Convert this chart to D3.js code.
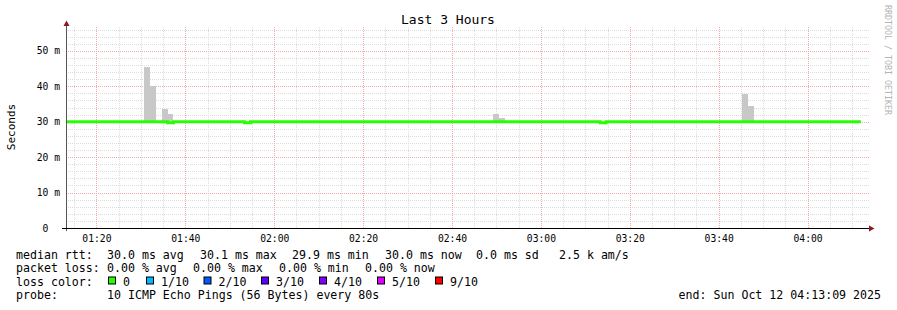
<!DOCTYPE html>
<html>
<head>
<meta charset="utf-8">
<script src="https://cdn.jsdelivr.net/npm/d3@7"></script>
<style>
html, body { margin: 0; padding: 0; background: #fff; }
svg { display: block; }
text { font-family: "DejaVu Sans Mono", monospace; }
</style>
</head>
<body>
<svg></svg>
<script>
const WIDTH = 897;
const HEIGHT = 310;

// time window and rrd step
const DAY = '2025-10-12';
const START = '01:13:09';
const END = '04:13:09';
const STEP_SECONDS = 80;

// smoke (gray bars): step start and highest ping, ms
const smokeStarts = ['01:30:40', '01:32:00', '01:34:40', '01:36:00', '02:49:20', '02:50:40', '03:45:20', '03:46:40'];
const smokeTops = [45.3, 40.2, 33.7, 32.2, 32.2, 31.1, 37.9, 34.5];

// median rtt, as change points of a step line, ms
const medianTimes = ['01:13:09', '01:36:00', '01:37:20', '01:53:20', '01:54:40', '03:13:20', '03:14:40', '04:12:00'];
const medianValues = [30.0, 29.7, 30.0, 29.7, 30.0, 29.7, 30.0, 30.0];

// axis ticks
const xMajorTicks = ['01:20', '01:40', '02:00', '02:20', '02:40', '03:00', '03:20', '03:40', '04:00'];
const yMajorTicks = [0, 10, 20, 30, 40, 50];
const yMinorTicks = [2, 4, 6, 8, 12, 14, 16, 18, 22, 24, 26, 28, 32, 34, 36, 38, 42, 44, 46, 48, 52, 54, 56];

// legend
const rttStats = ['30.0 ms avg', '30.1 ms max', '29.9 ms min', '30.0 ms now', '0.0 ms sd', '2.5 k am/s'];
const lossStats = ['0.00 % avg', '0.00 % max', '0.00 % min', '0.00 % now'];
const lossLabels = ['0', '1/10', '2/10', '3/10', '4/10', '5/10', '9/10'];
const lossColors = ['#26ff00', '#00b8ff', '#0059ff', '#5e00ff', '#7e00ff', '#dd00ff', '#ff0000'];
const probeText = '10 ICMP Echo Pings (56 Bytes) every 80s';
const endText = 'end: Sun Oct 12 04:13:09 2025';

// layout (rrdtool places each legend item on its own)
const PLOT = { left: 66, right: 866, top: 26, bottom: 228 };
const rttX = [107, 200, 292, 385, 476, 559];
const lossX = [107, 193, 279, 365];
const lossBoxX = [108, 146, 203.5, 261, 319, 377, 435];
const rowY = [258.5, 272, 285.5, 299];

const parseTime = d3.timeParse('%Y-%m-%d %H:%M:%S');
const toDate = (s) => parseTime(`${DAY} ${s}`);
const hm = (s) => toDate(s + ':00');

let svg = d3.select('svg')
    .attr('width', WIDTH)
    .attr('height', HEIGHT);

let x = d3.scaleTime()
    .domain([toDate(START), toDate(END)])
    .range([PLOT.left, PLOT.right]);

let y = d3.scaleLinear()
    .domain([0, 57])
    .range([PLOT.bottom, PLOT.top]);

const plotH = PLOT.bottom - PLOT.top;
const gridRight = PLOT.right + 3;

// minor vertical grid, every 5 min
let majorTimes = xMajorTicks.map(hm);
let minorTimes = x.ticks(d3.timeMinute.every(5))
    .filter((t) => !majorTimes.some((m) => +m === +t));

function styleGrid(g, color) {
    g.select('.domain').remove();
    g.selectAll('text').remove();
    g.selectAll('line')
        .attr('stroke', color)
        .attr('stroke-width', 1)
        .attr('stroke-dasharray', '1,1')
        .attr('shape-rendering', 'crispEdges');
}

svg.append('g')
    .attr('transform', `translate(0,${PLOT.bottom})`)
    .call(d3.axisBottom(x).tickValues(minorTimes).tickSize(-plotH).tickFormat(''))
    .call(styleGrid, '#dcdcdc');

svg.append('g')
    .attr('transform', `translate(${PLOT.left},0)`)
    .call(d3.axisLeft(y).tickValues(yMinorTicks).tickSize(-(gridRight - PLOT.left)).tickFormat(''))
    .call(styleGrid, '#dcdcdc');

svg.append('g')
    .attr('transform', `translate(0,${PLOT.bottom})`)
    .call(d3.axisBottom(x).tickValues(majorTimes).tickSize(-plotH).tickFormat(''))
    .call(styleGrid, '#f4a8a8');

svg.append('g')
    .attr('transform', `translate(${PLOT.left},0)`)
    .call(d3.axisLeft(y).tickValues(yMajorTicks.filter((d) => d > 0)).tickSize(-(gridRight - PLOT.left)).tickFormat(''))
    .call(styleGrid, '#f4a8a8');

// median lookup for smoke bottoms
let medianDates = medianTimes.map(toDate);
function medianAt(t) {
    const i = Math.max(0, d3.bisectRight(medianDates, t) - 1);
    return medianValues[i];
}

// smoke
let smoke = smokeStarts.map((s, i) => {
    const t0 = toDate(s);
    return { t0: t0, t1: d3.timeSecond.offset(t0, STEP_SECONDS), top: smokeTops[i], base: medianAt(t0) };
});

svg.append('g')
    .classed('smoke', true)
    .selectAll('rect')
    .data(smoke)
    .enter()
    .append('rect')
        .attr('x', (d) => x(d.t0))
        .attr('width', (d) => x(d.t1) - x(d.t0))
        .attr('y', (d) => y(d.top))
        .attr('height', (d) => y(d.base) - y(d.top))
        .attr('fill', '#c8c8c8')
        .attr('shape-rendering', 'crispEdges');

// median line
let median = medianDates.map((t, i) => ({ t: t, v: medianValues[i] }));
let line = d3.line()
    .x((d) => x(d.t))
    .y((d) => y(d.v))
    .curve(d3.curveStepAfter);

svg.append('path')
    .datum(median)
    .attr('d', line)
    .attr('fill', 'none')
    .attr('stroke', lossColors[0])
    .attr('stroke-width', 3);

// axes with rrdtool style arrows
svg.append('line')
    .attr('x1', PLOT.left + 0.5).attr('x2', PLOT.left + 0.5)
    .attr('y1', PLOT.bottom + 3).attr('y2', 24)
    .attr('stroke', '#555').attr('stroke-width', 1);
svg.append('line')
    .attr('x1', PLOT.left - 4).attr('x2', 870)
    .attr('y1', PLOT.bottom + 0.5).attr('y2', PLOT.bottom + 0.5)
    .attr('stroke', '#000').attr('stroke-width', 1);
svg.append('path')
    .attr('d', `M${PLOT.left + 0.5},20.5 L${PLOT.left - 2.5},26 L${PLOT.left + 3.5},26 Z`)
    .attr('fill', '#8b1a1a');
svg.append('path')
    .attr('d', `M874.5,${PLOT.bottom + 0.5} L869,${PLOT.bottom - 2.5} L869,${PLOT.bottom + 3.5} Z`)
    .attr('fill', '#8b1a1a');

// tick labels
let xAxis = svg.append('g')
    .attr('transform', `translate(0,${PLOT.bottom})`)
    .call(d3.axisBottom(x).tickValues(majorTimes).tickSize(0).tickPadding(7).tickFormat(d3.timeFormat('%H:%M')));
xAxis.select('.domain').remove();
xAxis.selectAll('text')
    .attr('font-family', '"DejaVu Sans Mono", monospace')
    .attr('font-size', 9.7)
    .attr('fill', '#000');

let yAxis = svg.append('g')
    .attr('transform', `translate(${PLOT.left},0)`)
    .call(d3.axisLeft(y).tickValues(yMajorTicks).tickSize(0).tickPadding(6)
        .tickFormat((d) => d === 0 ? '0  ' : `${d} m`));
yAxis.select('.domain').remove();
yAxis.selectAll('text')
    .attr('xml:space', 'preserve')
    .style('white-space', 'pre')
    .attr('font-family', '"DejaVu Sans Mono", monospace')
    .attr('font-size', 9.7)
    .attr('fill', '#000');

// title and labels
svg.append('text')
    .attr('x', 448).attr('y', 24)
    .attr('text-anchor', 'middle')
    .attr('font-size', 13)
    .text('Last 3 Hours');

svg.append('text')
    .attr('transform', 'translate(15,127) rotate(-90)')
    .attr('text-anchor', 'middle')
    .attr('font-family', '"DejaVu Sans", sans-serif')
    .attr('font-size', 11)
    .text('Seconds');

svg.append('text')
    .attr('transform', 'translate(885,5) rotate(90)')
    .attr('font-size', 8.3)
    .attr('fill', '#b4b4b4')
    .text('RRDTOOL / TOBI OETIKER');

// legend
let legend = svg.append('g')
    .classed('legend', true)
    .attr('font-size', 11.6)
    .attr('fill', '#000');

legend.append('text').attr('x', 16).attr('y', rowY[0]).text('median rtt:');
rttStats.forEach((s, i) => {
    legend.append('text').attr('x', rttX[i]).attr('y', rowY[0]).text(s);
});

legend.append('text').attr('x', 16).attr('y', rowY[1]).text('packet loss:');
lossStats.forEach((s, i) => {
    legend.append('text').attr('x', lossX[i]).attr('y', rowY[1]).text(s);
});

legend.append('text').attr('x', 16).attr('y', rowY[2]).text('loss color:');
lossLabels.forEach((s, i) => {
    legend.append('rect')
        .attr('x', lossBoxX[i] + 0.5).attr('y', rowY[2] - 8.5)
        .attr('width', 7).attr('height', 7)
        .attr('fill', lossColors[i])
        .attr('stroke', '#000').attr('stroke-width', 1);
    legend.append('text').attr('x', lossBoxX[i] + 15).attr('y', rowY[2]).text(s);
});

legend.append('text').attr('x', 16).attr('y', rowY[3]).text('probe:');
legend.append('text').attr('x', 107).attr('y', rowY[3]).text(probeText);
legend.append('text').attr('x', 881).attr('y', rowY[3]).attr('text-anchor', 'end').text(endText);
</script>
</body>
</html>
